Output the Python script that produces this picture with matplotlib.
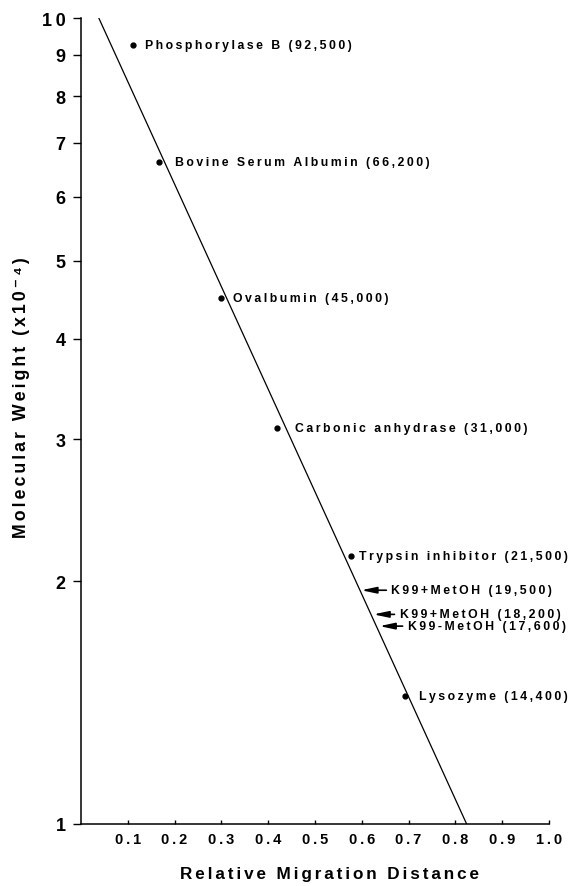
import matplotlib
matplotlib.use("Agg")
import matplotlib.pyplot as plt
from matplotlib.ticker import FixedLocator, NullLocator

# standard proteins: name, molecular weight (x10^-4), relative migration distance
proteins = ["Phosphorylase B (92,500)", "Bovine Serum Albumin (66,200)",
            "Ovalbumin (45,000)", "Carbonic anhydrase (31,000)",
            "Trypsin inhibitor (21,500)", "Lysozyme (14,400)"]
mw = [9.25, 6.62, 4.50, 3.10, 2.15, 1.44]
rm = [0.111, 0.166, 0.300, 0.419, 0.577, 0.693]

# K99 bands (marked with arrows on the standard curve)
k99_labels = ["K99+MetOH (19,500)", "K99+MetOH (18,200)", "K99-MetOH (17,600)"]
k99_mw = [1.95, 1.82, 1.76]
k99_rm = [0.599, 0.625, 0.638]

# fitted standard curve end points
fit_rm = [0.038, 0.824]
fit_mw = [10.0, 1.0]

yticks = [1, 2, 3, 4, 5, 6, 7, 8, 9, 10]
xticks = [0.1, 0.2, 0.3, 0.4, 0.5, 0.6, 0.7, 0.8, 0.9, 1.0]

# label offsets in pixels (layout only)
label_dx = [12, 16, 12, 18, 8, 14]
arrow_len = [25, 21, 23]
arrow_gap = [5, 6, 5]

FONT = ["Liberation Sans", "DejaVu Sans"]
plt.rcParams["font.family"] = FONT
THIN = "\u2009"
SIXTH = "\u2006"


def spaced(s, sep=THIN):
    # the original lettering is widely tracked
    return sep.join(s)


fig = plt.figure(figsize=(5.83, 8.87), dpi=100)
ax = fig.add_axes([81 / 583, 1 - 825 / 887, 468 / 583, 806 / 887])

ax.set_yscale("log")
ax.set_xlim(0, 1.0)
ax.set_ylim(1, 10)

ax.plot(fit_rm, fit_mw, color="black", lw=0.9)
ax.plot(rm, mw, "o", color="black", ms=3.5)

for name, x, y, dx in zip(proteins, rm, mw, label_dx):
    ax.annotate(spaced(name), (x, y), xytext=(dx * 0.72, 0), textcoords="offset points",
                ha="left", va="center", fontsize=8.8, fontweight="bold", family=FONT)

for name, x, y, L, g in zip(k99_labels, k99_rm, k99_mw, arrow_len, arrow_gap):
    ax.annotate("", (x, y), xytext=(L * 0.72, 0), textcoords="offset points",
                arrowprops=dict(arrowstyle="-|>,head_length=0.75,head_width=0.16",
                                color="black", lw=1.2, mutation_scale=12,
                                shrinkA=0, shrinkB=0))
    ax.annotate(spaced(name), (x, y), xytext=((L + g) * 0.72, 0), textcoords="offset points",
                ha="left", va="center", fontsize=8.8, fontweight="bold", family=FONT)

for s in ["top", "right"]:
    ax.spines[s].set_visible(False)
ax.spines["left"].set_linewidth(1.1)
ax.spines["bottom"].set_linewidth(1.1)

ax.yaxis.set_major_locator(FixedLocator(yticks))
ax.yaxis.set_minor_locator(NullLocator())
ax.set_yticklabels([spaced(str(t)) for t in yticks])
ax.set_xticks(xticks)
ax.set_xticklabels([spaced("%.1f" % t) for t in xticks])

ax.tick_params(axis="y", direction="out", length=6, width=1, labelsize=13, pad=5)
ax.tick_params(axis="x", direction="in", length=3, width=1, labelsize=10.5, pad=6)
for lab in ax.get_yticklabels() + ax.get_xticklabels():
    lab.set_fontweight("bold")
    lab.set_family(FONT)

ax.set_xlabel(spaced("Relative Migration Distance", SIXTH), fontsize=12.3, fontweight="bold",
              family=FONT)
ax.xaxis.set_label_coords(0.53, -0.052)
ax.set_ylabel(spaced("Molecular Weight (x10\u207b\u2074)", SIXTH), fontsize=12.8,
              fontweight="bold", family=FONT)
ax.yaxis.set_label_coords(-0.11, 0.53)

fig.savefig("out.png", dpi=100)
